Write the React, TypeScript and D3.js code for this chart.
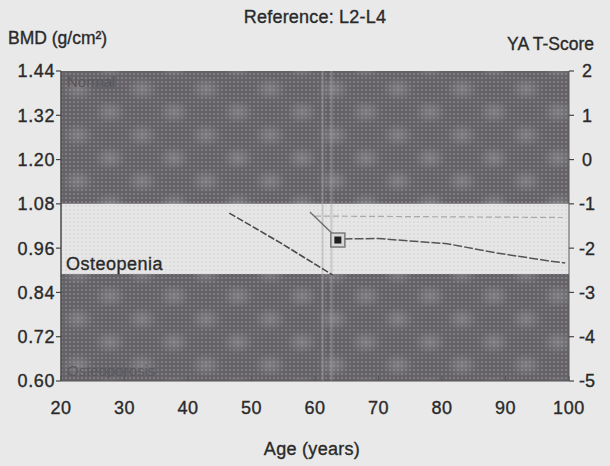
import React from 'react';
import * as d3 from 'd3';

const W = 610;
const H = 466;

const bmdTicks = [1.44, 1.32, 1.2, 1.08, 0.96, 0.84, 0.72, 0.6];
const tTicks = [2, 1, 0, -1, -2, -3, -4, -5];
const ageTicks = [20, 30, 40, 50, 60, 70, 80, 90, 100];

const zoneNames = ['Normal', 'Osteopenia', 'Osteoporosis'];
const zoneTops = [1.44, 1.08, 0.89];
const zoneBottoms = [1.08, 0.89, 0.6];
const zoneLight = [false, true, false];

const refAges = [46.5, 54.5, 62.8];
const refBmd = [1.055, 0.975, 0.887];
const upperAges = [59.2, 63.0];
const upperBmd = [1.058, 0.995];
const trendAges = [64.5, 70, 80.8, 88.6, 97, 99.4];
const trendBmd = [0.985, 0.986, 0.972, 0.947, 0.925, 0.92];
const faintAges = [60, 99];
const faintBmd = [1.047, 1.043];
const patientAge = [63.6];
const patientBmd = [0.982];
const creaseAges = [61.2, 62.6];

const FONT = '"Liberation Sans", Arial, sans-serif';
const TXT = '#2a2a2a';

const txtStyle = { stroke: TXT, strokeWidth: 0.35 } as const;

export default function App() {
  const x = d3.scaleLinear().domain([20, 100]).range([61, 569]);
  const y = d3.scaleLinear().domain([0.6, 1.44]).range([381, 71]);
  const yT = d3.scaleLinear().domain([-5, 2]).range([381, 71]);
  const line = d3
    .line<[number, number]>()
    .x((d) => x(d[0]))
    .y((d) => y(d[1]));
  const zip = (a: number[], b: number[]) => a.map((v, i) => [v, b[i]] as [number, number]);

  const px0 = x(20);
  const px1 = x(100);

  return (
    <div style={{ position: 'fixed', left: 0, top: 0 }}>
      <svg width={W} height={H} style={{ display: 'block', background: '#e9e9e9' }}>
        <defs>
          <pattern id="ht" width="4" height="4" patternUnits="userSpaceOnUse">
            <rect width="4" height="4" fill="#646266" />
            <circle cx="2" cy="2" r="1.1" fill="#858387" />
          </pattern>
          <pattern id="htl" width="4" height="4" patternUnits="userSpaceOnUse">
            <rect width="4" height="4" fill="#e6e6e6" />
            <circle cx="2" cy="2" r="0.9" fill="#d6d6d6" />
          </pattern>
          <radialGradient id="blob">
            <stop offset="0%" stopColor="#a8a6aa" stopOpacity="0.4" />
            <stop offset="100%" stopColor="#a8a6aa" stopOpacity="0" />
          </radialGradient>
          <pattern id="moire" width="64" height="46" patternUnits="userSpaceOnUse" x="30" y="8">
            <ellipse cx="16" cy="12" rx="16" ry="12" fill="url(#blob)" />
            <ellipse cx="48" cy="35" rx="16" ry="12" fill="url(#blob)" />
          </pattern>
        </defs>

        {zoneNames.map((n, i) => (
          <g key={n}>
            <rect
              x={px0}
              y={y(zoneTops[i])}
              width={px1 - px0}
              height={y(zoneBottoms[i]) - y(zoneTops[i])}
              fill={zoneLight[i] ? 'url(#htl)' : 'url(#ht)'}
            />
            {!zoneLight[i] && (
              <rect
                x={px0}
                y={y(zoneTops[i])}
                width={px1 - px0}
                height={y(zoneBottoms[i]) - y(zoneTops[i])}
                fill="url(#moire)"
              />
            )}
          </g>
        ))}

        {creaseAges.map((a) => (
          <line
            key={a}
            x1={x(a)}
            x2={x(a)}
            y1={y(1.44)}
            y2={y(0.6)}
            stroke="#a8a6aa"
            strokeWidth={2}
            opacity={0.45}
          />
        ))}

        {/* zone labels */}
        <text x={px0 + 6} y={y(1.44) + 16} fontFamily={FONT} fontSize={15} fill="#58565a">
          {zoneNames[0]}
        </text>
        <text x={px0 + 5} y={y(0.89) - 4} fontFamily={FONT} fontSize={18} fill={TXT} letterSpacing={0.5} style={txtStyle}>
          {zoneNames[1]}
        </text>
        <text x={px0 + 6} y={y(0.6) - 5} fontFamily={FONT} fontSize={15} fill="#5a585c">
          {zoneNames[2]}
        </text>

        {/* lines */}
        <path d={line(zip(faintAges, faintBmd)) || ''} fill="none" stroke="#a9a9a9" strokeWidth={1.2} strokeDasharray="6 3" />
        <path d={line(zip(refAges, refBmd)) || ''} fill="none" stroke="#4a4a4a" strokeWidth={1.6} strokeDasharray="7 2" />
        <path d={line(zip(upperAges, upperBmd)) || ''} fill="none" stroke="#6a6a6a" strokeWidth={1.3} />
        <path d={line(zip(trendAges, trendBmd)) || ''} fill="none" stroke="#555" strokeWidth={1.5} strokeDasharray="9 2" />

        {patientAge.map((a, i) => (
          <g key={a}>
            <rect x={x(a) - 7} y={y(patientBmd[i]) - 7} width={14} height={14} fill="#d8d8d8" stroke="#7a7a7a" strokeWidth={1.5} />
            <rect x={x(a) - 3.5} y={y(patientBmd[i]) - 3.5} width={7} height={7} fill="#1e1e1e" />
          </g>
        ))}

        {/* axes lines */}
        <line x1={px0} x2={px0} y1={y(1.44)} y2={y(0.6)} stroke="#4a4a4a" strokeWidth={1.5} />
        <line x1={px1} x2={px1} y1={y(1.44)} y2={y(0.6)} stroke="#5a5a5a" strokeWidth={1} />
        <line x1={px0} x2={px1} y1={y(0.6)} y2={y(0.6)} stroke="#555" strokeWidth={1} />

        {bmdTicks.map((t) => (
          <g key={t}>
            <line x1={px0 - 5} x2={px0} y1={y(t)} y2={y(t)} stroke="#444" strokeWidth={1.2} />
            <text
              x={px0 - 6}
              y={y(t)}
              dy="0.36em"
              textAnchor="end"
              fontFamily={FONT}
              fontSize={18}
              fill={TXT}
              letterSpacing={0.6}
              style={txtStyle}
            >
              {t.toFixed(2)}
            </text>
          </g>
        ))}

        {tTicks.map((t) => (
          <g key={t}>
            <line x1={px1} x2={px1 + 5} y1={yT(t)} y2={yT(t)} stroke="#444" strokeWidth={1.2} />
            <text
              x={px1 + 18}
              y={yT(t)}
              dy="0.36em"
              textAnchor="middle"
              fontFamily={FONT}
              fontSize={18}
              fill={TXT}
              style={txtStyle}
            >
              {t}
            </text>
          </g>
        ))}

        {ageTicks.map((a) => (
          <g key={a}>
            <line x1={x(a)} x2={x(a)} y1={y(0.6)} y2={y(0.6) - 5} stroke="#555" strokeWidth={1} />
            <text
              x={x(a)}
              y={y(0.6) + 33}
              textAnchor="middle"
              fontFamily={FONT}
              fontSize={18}
              fill={TXT}
              letterSpacing={0.6}
              style={txtStyle}
            >
              {a}
            </text>
          </g>
        ))}

        <text x={315} y={23} textAnchor="middle" fontFamily={FONT} fontSize={18} fill={TXT} letterSpacing={0.2} style={txtStyle}>
          Reference: L2-L4
        </text>
        <text x={8} y={44} fontFamily={FONT} fontSize={17.5} fill={TXT} style={txtStyle}>
          BMD (g/cm²)
        </text>
        <text x={594} y={50} textAnchor="end" fontFamily={FONT} fontSize={17.5} fill={TXT} style={txtStyle}>
          YA T-Score
        </text>
        <text x={312} y={455} textAnchor="middle" fontFamily={FONT} fontSize={18} fill={TXT} letterSpacing={0.3} style={txtStyle}>
          Age (years)
        </text>
      </svg>
    </div>
  );
}
